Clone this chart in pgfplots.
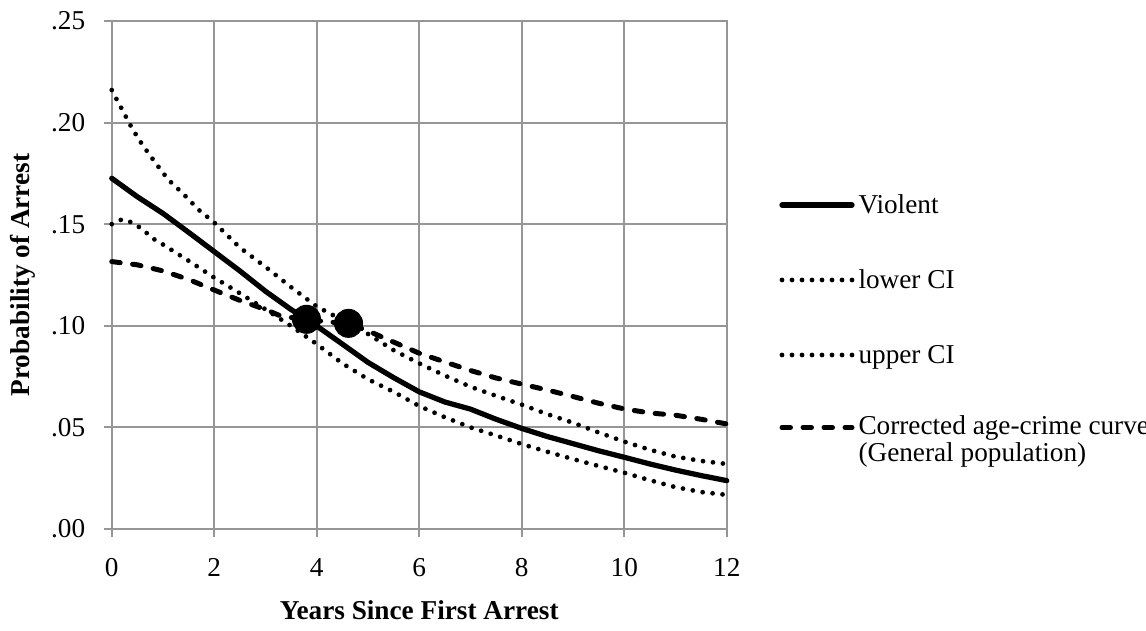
\documentclass[border=0pt]{standalone}
\usepackage{fontspec}
\setmainfont{Liberation Serif}
\usepackage{pgfplots}
\pgfplotsset{compat=1.18}
\definecolor{gridgray}{RGB}{150,150,150}
\tikzset{
  violent/.style={black, line width=2.1pt, line cap=round, line join=round},
  ci/.style={black, line width=1.9pt, line cap=round, dash pattern=on 0pt off 4pt},
  gen/.style={black, line width=2pt, line cap=round, dash pattern=on 3.4pt off 5pt},
}
\begin{document}
\begin{tikzpicture}[font=\fontsize{10.9}{13}\selectfont]
\path[use as bounding box] (-44.7pt,-40.4pt) rectangle (413.7pt,211.6pt);
\begin{axis}[
  at={(0,0)}, anchor=south west,
  scale only axis, width=246pt, height=203.2pt,
  xmin=0, xmax=12, ymin=0, ymax=0.25,
  xtick={0,2,4,6,8,10,12}, xticklabels={0,2,4,6,8,10,12},
  ytick={0,0.05,0.1,0.15,0.2,0.25}, yticklabels={.00,.05,.10,.15,.20,.25},
  xtick pos=bottom, ytick pos=left, tick align=outside, major tick length=3.2pt,
  grid=major, grid style={draw=gridgray, line width=0.8pt},
  axis line style={draw=gridgray, line width=0.8pt},
  tick style={draw=gridgray, line width=0.8pt},
  tick label style={font=\fontsize{10.9}{13}\selectfont},
  yticklabel style={anchor=east, inner sep=0pt, xshift=-7.2pt},
  xticklabel style={anchor=north, inner sep=0pt, yshift=-8.4pt},
  xlabel={\bfseries Years Since First Arrest},
  ylabel={\bfseries Probability of Arrest},
  xlabel style={at={(axis description cs:0.5,0)}, anchor=north, inner sep=0pt, yshift=-28.4pt},
  ylabel style={at={(axis description cs:0,0.5)}, anchor=north, inner sep=0pt, yshift=40.7pt},
  clip=false,
]
% lower CI
\addplot[ci] coordinates {(0,0.150)(0.2,0.1524)(0.4,0.1508)(0.6,0.1475)(0.8,0.1430)(1,0.1400)(1.5,0.1320)(2,0.1237)(2.5,0.1160)(3,0.1081)(3.5,0.0999)(4,0.0910)(4.5,0.0815)(5,0.0737)(5.5,0.0675)(6,0.0605)(6.5,0.0550)(7,0.0500)(7.5,0.0460)(8,0.0418)(8.5,0.0380)(9,0.0344)(9.5,0.0310)(10,0.0277)(10.5,0.0240)(11,0.0206)(11.5,0.0182)(12,0.0168)};
% upper CI
\addplot[ci] coordinates {(0,0.216)(0.2,0.2065)(0.4,0.1970)(0.6,0.1890)(0.85,0.1803)(1.1,0.1720)(1.4,0.1648)(1.7,0.1570)(2,0.1508)(2.5,0.1385)(3,0.1290)(3.5,0.1190)(4,0.1095)(4.62,0.1012)(5,0.0960)(5.5,0.0880)(6,0.0815)(6.5,0.0755)(7,0.0700)(7.5,0.0655)(8,0.0612)(8.5,0.0565)(9,0.0523)(9.5,0.0475)(10,0.0430)(10.5,0.0390)(11,0.0356)(11.5,0.0335)(12,0.0320)};
% general population
\addplot[gen] coordinates {(0,0.1316)(0.5,0.1300)(1,0.1270)(1.5,0.1228)(2,0.1176)(2.5,0.1125)(3,0.1080)(3.3,0.1048)(3.8,0.1030)(4.2,0.1020)(4.62,0.1010)(5,0.0975)(5.5,0.0920)(6,0.0865)(6.5,0.0822)(7,0.0780)(7.5,0.0743)(8,0.0713)(8.5,0.0684)(9,0.0652)(9.5,0.0619)(10,0.0591)(10.5,0.0571)(11,0.0560)(11.5,0.0540)(12,0.0517)};
% violent
\addplot[violent] coordinates {(0,0.1726)(0.5,0.1635)(1,0.1553)(1.5,0.1460)(2,0.1365)(2.5,0.1270)(3,0.1170)(3.5,0.1080)(3.8,0.1032)(4,0.0999)(4.5,0.0910)(5,0.0820)(5.5,0.0745)(6,0.0675)(6.5,0.0625)(7,0.0590)(7.5,0.0540)(8,0.0495)(8.5,0.0455)(9,0.0420)(9.5,0.0385)(10,0.0353)(10.5,0.0320)(11,0.0290)(11.5,0.0263)(12,0.0238)};
% intersection markers
\addplot[only marks, mark=*, mark size=5.6pt, black] coordinates {(3.8,0.1032)(4.62,0.1012)};
\end{axis}
% legend
\draw[violent] (268.1pt,129.6pt) -- (296.1pt,129.6pt);
\node[anchor=base west, inner sep=0pt] at (298.5pt,126.1pt) {Violent};
\draw[ci] (268.1pt,99.6pt) -- (296.1pt,99.6pt);
\node[anchor=base west, inner sep=0pt] at (298.5pt,96.1pt) {lower CI};
\draw[ci] (268.1pt,69.6pt) -- (296.1pt,69.6pt);
\node[anchor=base west, inner sep=0pt] at (298.5pt,66.1pt) {upper CI};
\draw[gen] (268.1pt,40.6pt) -- (296.1pt,40.6pt);
\node[anchor=base west, inner sep=0pt] at (298.5pt,37.6pt) {Corrected age-crime curve};
\node[anchor=base west, inner sep=0pt] at (298.5pt,26.9pt) {(General population)};
\end{tikzpicture}
\end{document}
